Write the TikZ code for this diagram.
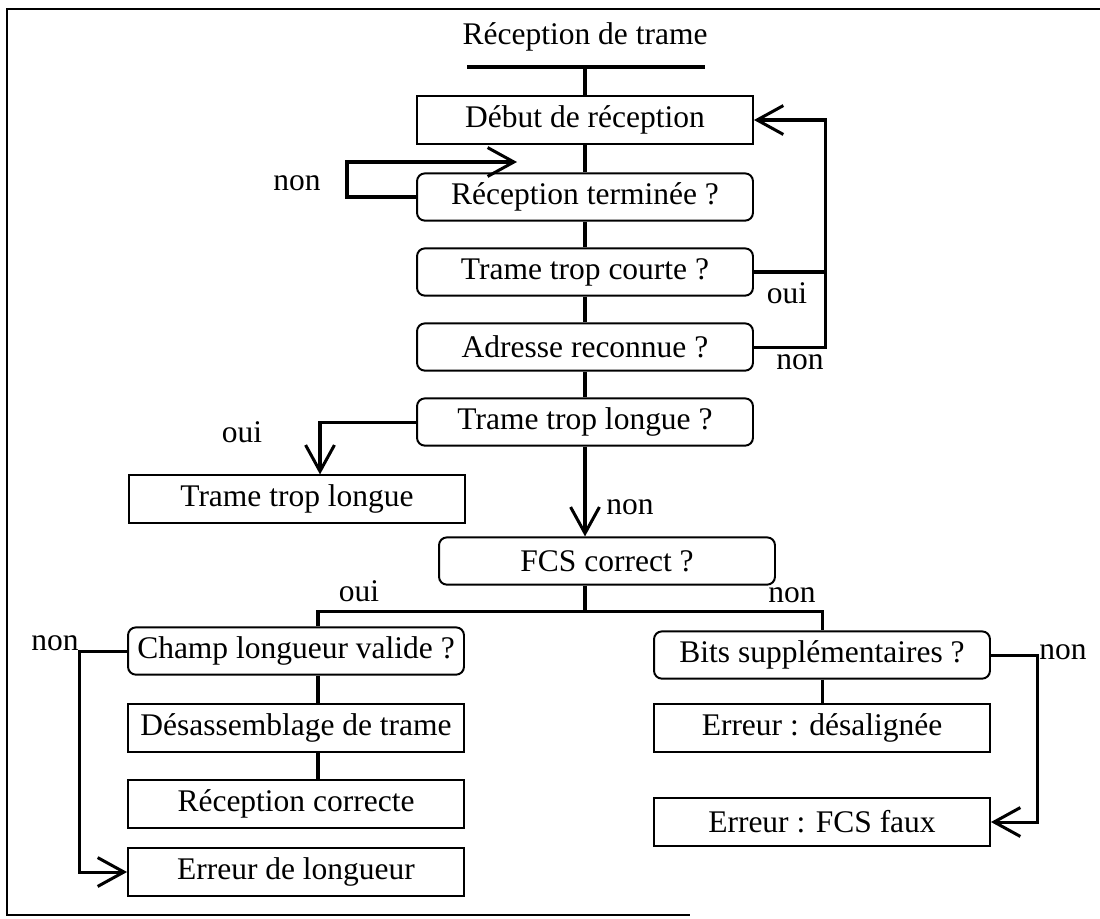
\documentclass[tikz,border=0pt]{standalone}
\usepackage{fontspec}
\setmainfont{Liberation Serif}
\usetikzlibrary{arrows.meta}

\begin{document}
\begin{tikzpicture}[x=0.381pt,y=-0.381pt,
    font=\fontsize{12pt}{14pt}\selectfont,
    boite/.style={draw,line width=0.75pt,minimum width=128pt,minimum height=18pt,inner sep=0pt},
    test/.style={boite,rounded corners=3pt},
    lien/.style={line width=1.15pt},
    fleche/.style={lien,-{Straight Barb[length=10pt,width=11pt]}}]
    \useasboundingbox (0,0) rectangle (1100,918);

    % cadre
    \draw[line width=0.75pt] (1100,9) -- (7,9) -- (7,915) -- (690,915);

    \node (titre) at (585,37) {Réception de trame};
    \coordinate (barg) at (467,67);
    \coordinate (bard) at (705,67);
    \coordinate (barm) at (585,67);

    \node[boite] (debut) at (585,120) {Début de réception};
    \node[test] (termine) at (585,197) {Réception terminée ?};
    \node[test] (courte) at (585,272) {Trame trop courte ?};
    \node[test] (adresse) at (585,347) {Adresse reconnue ?};
    \node[test] (longue) at (585,422) {Trame trop longue ?};
    \node[boite] (troplong) at (297,499) {Trame trop longue};
    \node[test] (fcs) at (607,561) {FCS correct ?};

    \node[test] (champ) at (296,651) {Champ longueur valide ?};
    \node[boite] (desass) at (296,728) {Désassemblage de trame};
    \node[boite] (recok) at (296,804) {Réception correcte};
    \node[boite] (errlong) at (296,872) {Erreur de longueur};

    \node[test] (bits) at (822,655) {Bits supplémentaires ?};
    \node[boite] (desal) at (822,728) {Erreur : désalignée};
    \node[boite] (fcsfaux) at (822,822) {Erreur : FCS faux};

    % label
    \node (nonlabel1) at (297,183) {non};
    \node (ouilabel1) at (787,293) {oui};
    \node (nonlabel2) at (800,362) {non};
    \node (ouilabel2) at (242,432) {oui};
    \node (nonlabel3) at (630,507) {non};
    \node (ouilabel3) at (359,591) {oui};
    \node (nonlabel4) at (792,595) {non};
    \node (nonlabel5) at (55,643) {non};
    \node (nonlabel6) at (1063,652) {non};

    \coordinate (boucle) at (347,162);
    \coordinate (bouclefin) at (517,162);
    \coordinate (retour) at (825,120);
    \coordinate (ouix) at (320,425);
    \coordinate (branche) at (585,611);
    \coordinate (brg) at (318,611);
    \coordinate (brd) at (822,611);

    \draw[lien] (barg) -- (bard);
    \draw[lien] (barm) -- (debut);

    \foreach \from/\to in {debut/termine,termine/courte,courte/adresse,adresse/longue,bits/desal}
    \draw[lien] (\from.south) -- (\to.north);
    \foreach \from/\to in {champ/desass,desass/recok}
    \draw[lien] (\from.south -| brg) -- (\to.north -| brg);

    \draw[fleche] (termine.west) -| (boucle) -- (bouclefin);
    \draw[lien] (courte.east) -- (courte.east -| retour);
    \draw[fleche] (adresse.east) -| (retour) -- (debut.east);
    \draw[fleche] (longue.west) -| (ouix |- troplong.north);
    \draw[fleche] (longue.south) -- (longue.south |- fcs.north);
    \draw[lien] (fcs.south -| branche) -- (branche);
    \draw[lien] (brg |- champ.north) |- (brd) -- (bits.north);
    \draw[fleche] (champ.west) -- ++(-48,0) |- (errlong.west);
    \draw[fleche] (bits.east) -- ++(47,0) |- (fcsfaux.east);
\end{tikzpicture}
\end{document}
